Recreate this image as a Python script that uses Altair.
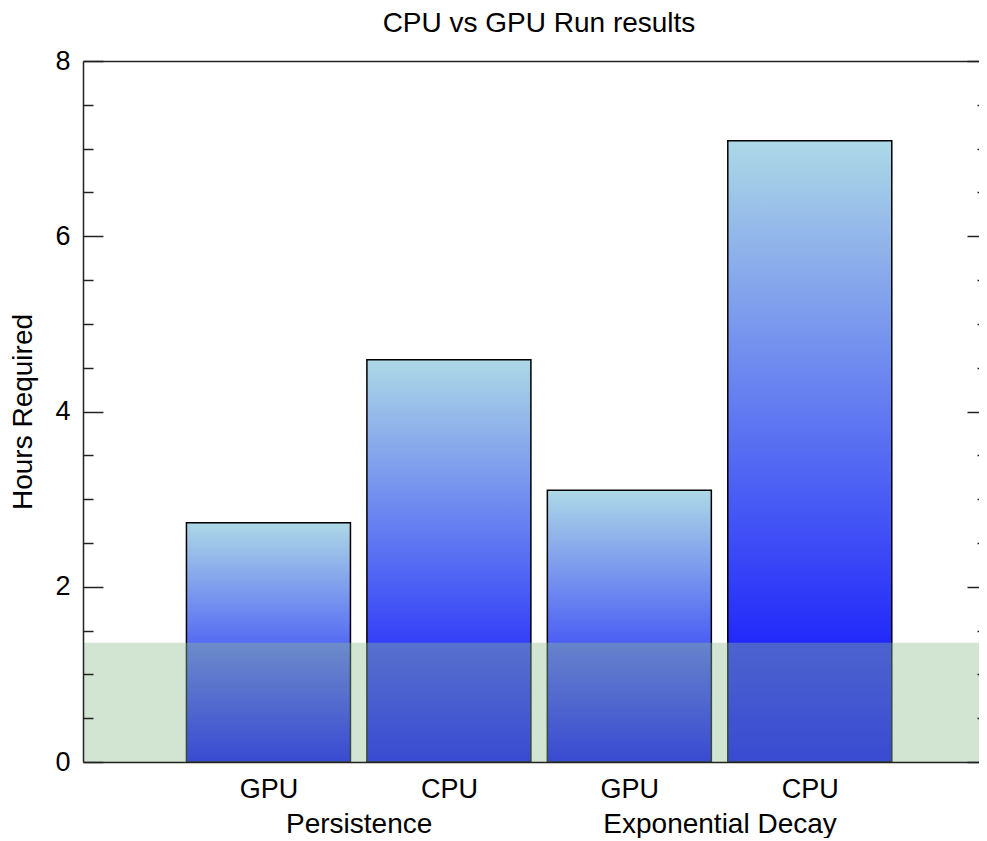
import json
import altair as alt
import pandas as pd

# ---- data ----
categories = ["GPU", "CPU", "GPU", "CPU"]
groups = ["Persistence", "Persistence", "Exponential Decay", "Exponential Decay"]
hours = [2.73, 4.59, 3.10, 7.09]
band_top = [1.36]
y_major = [0, 2, 4, 6, 8]
y_minor = [0.5, 1, 1.5, 2.5, 3, 3.5, 4.5, 5, 5.5, 6.5, 7, 7.5]
x_visible = [0, 4.91]   # visible part of the category axis (right side is cut off)

W, H = 896, 701
FONT = "Liberation Sans"
FS = 27
FS_BIG = 28
INK = "#222222"

df = pd.DataFrame({
    "category": categories,
    "group": groups,
    "hours": hours,
    "idx": list(range(1, len(categories) + 1)),
})
group_pos = df.groupby("group", sort=False)["idx"].mean()
group_map = {f"{v:.1f}": k for k, v in group_pos.items()}
band_df = pd.DataFrame({"top": band_top})
tick_df = pd.DataFrame({"hours": y_major + y_minor})

xscale = alt.Scale(domain=x_visible, nice=False, zero=False)
yscale = alt.Scale(domain=[0, 8], nice=False)

gradient = {
    "gradient": "linear", "x1": 0, "y1": 0, "x2": 0, "y2": 1,
    "stops": [{"offset": 0, "color": "lightblue"}, {"offset": 1, "color": "blue"}],
}

bars = alt.Chart(df).mark_bar(size=164, fill=gradient, stroke="black", strokeWidth=1.5).encode(
    x=alt.X("idx:Q", scale=xscale, axis=alt.Axis(
        orient="bottom", values=df["idx"].tolist(), ticks=False, grid=False,
        domain=True, domainColor=INK, domainWidth=1.5,
        labelExpr=f"{json.dumps(categories)}[datum.value - 1]",
        labelFontSize=FS, labelFont=FONT, labelColor="black", labelPadding=14, title=None, zindex=1)),
    y=alt.Y("hours:Q", scale=yscale, axis=alt.Axis(
        orient="left", values=y_major, ticks=False, grid=False,
        domain=True, domainColor=INK, domainWidth=1.5,
        labelFontSize=FS, labelFont=FONT, labelColor="black", labelPadding=13,
        title="Hours Required", titleFontSize=FS_BIG, titleFont=FONT, titleFontWeight="normal",
        titleColor="black", titlePadding=17, zindex=1)),
)

band = alt.Chart(band_df).mark_rect(color="darkseagreen", opacity=0.4).encode(
    y=alt.Y("top:Q", scale=yscale, axis=None),
    y2=alt.datum(0),
)

group_axis = alt.Chart(df).transform_aggregate(
    pos="mean(idx)", groupby=["group"]
).mark_point(opacity=0).encode(
    x=alt.X("pos:Q", scale=xscale, axis=alt.Axis(
        orient="bottom", values=sorted(group_pos.tolist()), ticks=False, domain=False, grid=False,
        format=".1f", labelExpr=f"{json.dumps(group_map)}[datum.label]", labelLimit=600,
        labelFontSize=FS_BIG, labelFont=FONT, labelColor="black", labelPadding=48, title=None)),
)

top_line = alt.Chart(df).mark_point(opacity=0).encode(
    x=alt.X("idx:Q", scale=xscale, axis=alt.Axis(
        orient="top", labels=False, ticks=False, grid=False,
        domain=True, domainColor=INK, domainWidth=1.5, title=None, zindex=1)),
)


def tick_layer(values, orient, size, offset):
    return alt.Chart(tick_df).mark_point(opacity=0).encode(
        y=alt.Y("hours:Q", scale=yscale, axis=alt.Axis(
            orient=orient, offset=offset, values=values, labels=False, domain=False, grid=False,
            ticks=True, tickSize=size, tickWidth=1.5, tickColor=INK, title=None, zindex=1)),
    )


chart = alt.layer(
    bars, band, group_axis, top_line,
    tick_layer(y_major, "right", 20, -W), tick_layer(y_minor, "right", 10, -W),
    tick_layer(y_major, "left", 20, -(W + 8)), tick_layer(y_minor, "left", 10, -(W + 8)),
).resolve_axis(x="independent", y="independent").properties(
    width=W, height=H,
    autosize=alt.AutoSizeParams(type="none"),
    padding={"left": 75, "top": 53, "right": 0, "bottom": 76},
    title=alt.TitleParams("CPU vs GPU Run results", fontSize=FS_BIG, font=FONT,
                          fontWeight="normal", color="black", offset=9, dx=8),
).configure_view(stroke=None)

chart.save("out.html", embed_options={"renderer": "svg", "actions": False})
